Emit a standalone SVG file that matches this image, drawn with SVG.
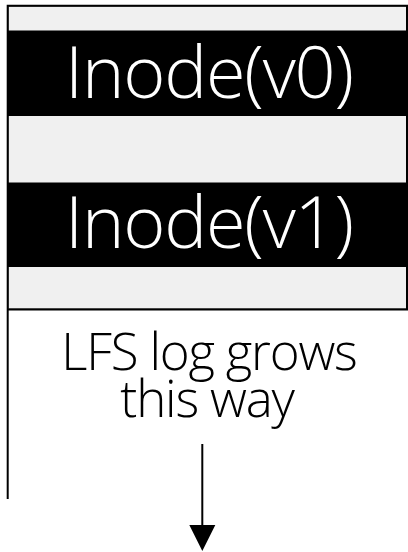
<svg xmlns="http://www.w3.org/2000/svg" width="408" height="552" viewBox="0 0 408 552">
  <defs>
    <style>
      .frame { fill: none; stroke: #000; stroke-width: 2; }
      .slot { fill: #f0f0f0; stroke: #8c8c8c; stroke-width: 1; }
      .inode { fill: #000; }
      .inode-label { fill: #fff; font-family: "Open Sans", "Liberation Sans", sans-serif; font-weight: 300; font-size: 72px; letter-spacing: -1.2px; text-anchor: middle; }
      .note { fill: #000; font-family: "Open Sans", "Liberation Sans", sans-serif; font-weight: 300; font-size: 51px; letter-spacing: -1.2px; text-anchor: middle; }
      .conn { stroke: #000; stroke-width: 2; fill: none; }
    </style>
  </defs>

  <!-- log segment -->
  <g id="segment">
    <rect class="slot" x="8.5" y="6.5" width="398" height="302"/>
    <path class="frame" d="M7.7,499 V5.7 H407 V309.5 H7.7"/>
  </g>

  <g id="inode-v0">
    <rect class="inode" x="7" y="30.5" width="401" height="85.5"/>
    <text class="inode-label" x="209" y="98">Inode(v0)</text>
  </g>

  <g id="inode-v1">
    <rect class="inode" x="7" y="182.5" width="401" height="84.5"/>
    <text class="inode-label" x="209" y="248">Inode(v1)</text>
  </g>

  <g id="caption">
    <text class="note" x="209" y="370">LFS log grows</text>
    <text class="note" x="207" y="417">this way</text>
  </g>

  <g id="connectors">
    <line class="conn" x1="202.3" y1="444" x2="202.3" y2="526"/>
    <path d="M189.3,525 L215.3,525 L202.3,551 Z" fill="#000"/>
  </g>
</svg>
